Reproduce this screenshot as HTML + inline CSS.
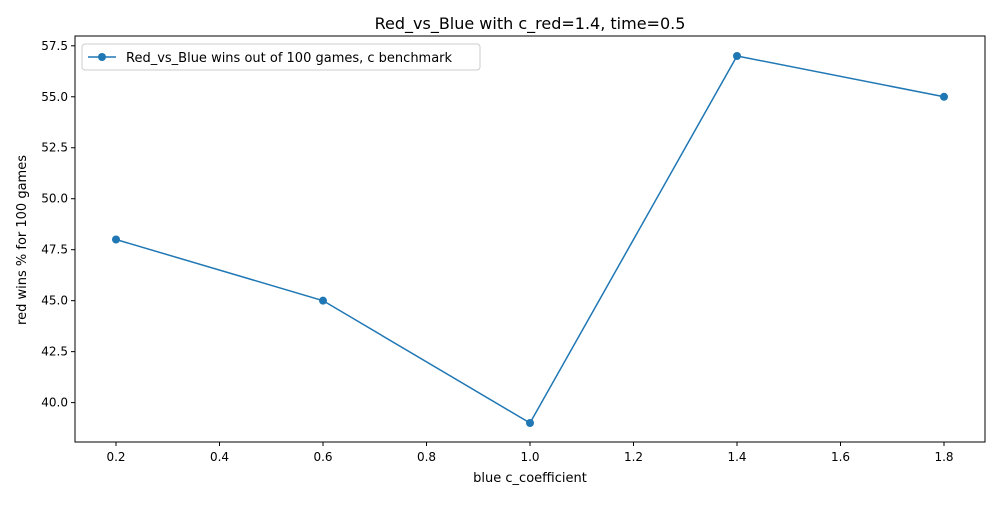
<!DOCTYPE html>
<html><head><meta charset="utf-8"><style>
body{margin:0;background:#fff;font-family:"Liberation Sans","DejaVu Sans",sans-serif;}
svg text{font-family:"DejaVu Sans","Liberation Sans",sans-serif;}
</style></head><body>
<svg id="chart" width="1000" height="500" xmlns="http://www.w3.org/2000/svg">
<rect width="1000" height="500" fill="#fff"/>
<text x="530" y="29" font-size="16" text-anchor="middle" fill="#000">Red_vs_Blue with c_red=1.4, time=0.5</text>
<text x="530" y="482" font-size="13" text-anchor="middle">blue c_coefficient</text>
<text transform="translate(26,240) rotate(-90)" font-size="13" text-anchor="middle">red wins % for 100 games</text>
<g id="xt"></g><g id="yt"></g><g id="series"></g>
<rect x="75" y="36" width="910" height="406" fill="none" stroke="#000" stroke-width="1"/>
<g>
<rect x="82" y="44" width="398" height="26" rx="3" fill="#fff" stroke="#ccc"/>
<line x1="88" y1="57" x2="116" y2="57" stroke="#1f77b4" stroke-width="1.5"/>
<circle cx="102" cy="57" r="4" fill="#1f77b4"/>
<text x="126" y="62" font-size="13">Red_vs_Blue wins out of 100 games, c benchmark</text>
</g>
</svg>
<script>
const xs=[0.2,0.6,1.0,1.4,1.8];
const ys=[48,45,39,57,55];
const xTicks=[0.2,0.4,0.6,0.8,1.0,1.2,1.4,1.6,1.8];
const yTicks=[40.0,42.5,45.0,47.5,50.0,52.5,55.0,57.5];
const NS="http://www.w3.org/2000/svg";
function X(v){return 116+(v-0.2)*517.5;}
function Y(v){return 423-(v-39)*20.389;}
function mk(t,a,p){const e=document.createElementNS(NS,t);for(const k in a)e.setAttribute(k,a[k]);p.appendChild(e);return e;}
const xt=document.getElementById('xt'),yt=document.getElementById('yt'),s=document.getElementById('series');
xTicks.forEach(v=>{const x=X(v);
mk('line',{x1:x,y1:442,x2:x,y2:446,stroke:'#000'},xt);
const t=mk('text',{x:x,y:461,'font-size':12,'text-anchor':'middle'},xt);t.textContent=v.toFixed(1);

});
yTicks.forEach(v=>{const y=Y(v);
mk('line',{x1:71,y1:y,x2:75,y2:y,stroke:'#000'},yt);
const t=mk('text',{x:68,y:y+4,'font-size':12,'text-anchor':'end'},yt);t.textContent=v.toFixed(1);

});
const pl=mk('polyline',{points:xs.map((v,i)=>X(v)+','+Y(ys[i])).join(' '),fill:'none',stroke:'#1f77b4','stroke-width':1.5},s);


xs.forEach((v,i)=>{const c=mk('circle',{cx:X(v),cy:Y(ys[i]),r:4,fill:'#1f77b4'},s);

});
</script>
</body></html>
